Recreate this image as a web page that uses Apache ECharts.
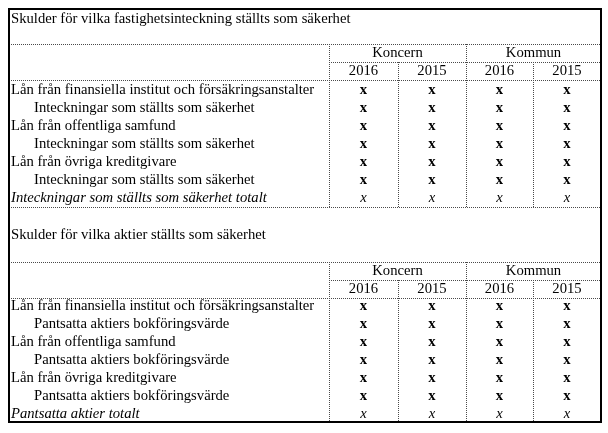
<!DOCTYPE html>
<html><head><meta charset="utf-8">
<script src="https://cdn.jsdelivr.net/npm/echarts@6/dist/echarts.min.js"></script>
<style>html,body{margin:0;padding:0;background:#fff}#c{width:608px;height:433px}</style>
</head><body><div id="c"></div>
<script>
// ---- data ----
const sectionTitles = ['Skulder för vilka fastighetsinteckning ställts som säkerhet', 'Skulder för vilka aktier ställts som säkerhet'];
const groups = ['Koncern', 'Kommun'];
const years = ['2016', '2015'];
const rows1 = [
  'Lån från finansiella institut och försäkringsanstalter',
  'Inteckningar som ställts som säkerhet',
  'Lån från offentliga samfund',
  'Inteckningar som ställts som säkerhet',
  'Lån från övriga kreditgivare',
  'Inteckningar som ställts som säkerhet',
  'Inteckningar som ställts som säkerhet totalt'
];
const rows2 = [
  'Lån från finansiella institut och försäkringsanstalter',
  'Pantsatta aktiers bokföringsvärde',
  'Lån från offentliga samfund',
  'Pantsatta aktiers bokföringsvärde',
  'Lån från övriga kreditgivare',
  'Pantsatta aktiers bokföringsvärde',
  'Pantsatta aktier totalt'
];
const rowKinds = ['main', 'sub', 'main', 'sub', 'main', 'sub', 'total'];
const values1 = [
  ['x', 'x', 'x', 'x'], ['x', 'x', 'x', 'x'], ['x', 'x', 'x', 'x'], ['x', 'x', 'x', 'x'],
  ['x', 'x', 'x', 'x'], ['x', 'x', 'x', 'x'], ['x', 'x', 'x', 'x']
];
const values2 = [
  ['x', 'x', 'x', 'x'], ['x', 'x', 'x', 'x'], ['x', 'x', 'x', 'x'], ['x', 'x', 'x', 'x'],
  ['x', 'x', 'x', 'x'], ['x', 'x', 'x', 'x'], ['x', 'x', 'x', 'x']
];

// ---- layout (not data) ----
const W = 608, H = 433;
const FS = 14.67;
const FAM = '"Liberation Serif", "Times New Roman", serif';
const layout = {
  border: { x0: 9, y0: 9, x1: 601, y1: 422 },
  labelX: 11, indentX: 34,
  colEdges: [329, 398, 466, 533, 601],
  rowH: 18,
  sections: [
    { titleY: 18, groupTop: 44, yearTop: 62, bodyTop: 80, firstRowY: 90, end: 207, endLine: true },
    { titleY: 234, groupTop: 262, yearTop: 280, bodyTop: 298, firstRowY: 306, end: 422, endLine: false }
  ]
};
const sections = [
  { title: sectionTitles[0], rows: rows1, values: values1 },
  { title: sectionTitles[1], rows: rows2, values: values2 }
];

function renderItem(params, api) {
  const P = (x, y) => api.coord([x, y]);
  const children = [];
  const dotted = { stroke: '#4a4a4a', lineWidth: 1, lineDash: [1, 1], fill: null };
  const px = v => Math.round(v) + 0.5;
  function hline(x0, x1, y) {
    const a = P(x0, y), b = P(x1, y);
    children.push({ type: 'line', shape: { x1: a[0], y1: px(a[1]), x2: b[0], y2: px(b[1]) }, style: dotted });
  }
  function vline(x, y0, y1) {
    const a = P(x, y0), b = P(x, y1);
    children.push({ type: 'line', shape: { x1: px(a[0]), y1: a[1], x2: px(b[0]), y2: b[1] }, style: dotted });
  }
  function text(str, x, y, font, align) {
    const p = P(x, y);
    children.push({ type: 'text', x: p[0], y: p[1], style: { text: str, font: font, fill: '#000', align: align || 'left', verticalAlign: 'middle' } });
  }
  const B = layout.border, E = layout.colEdges;
  const normal = FS + 'px ' + FAM, italic = 'italic ' + FS + 'px ' + FAM, bold = 'bold ' + FS + 'px ' + FAM;
  sections.forEach((sec, si) => {
    const L = layout.sections[si];
    text(sec.title, layout.labelX, L.titleY + 1, normal);
    hline(B.x0, B.x1, L.groupTop);
    hline(E[0], B.x1, L.yearTop);
    hline(B.x0, B.x1, L.bodyTop);
    if (L.endLine) hline(B.x0, B.x1, L.end);
    vline(E[0], L.groupTop, L.end);
    vline(E[2], L.groupTop, L.end);
    vline(E[1], L.yearTop, L.end);
    vline(E[3], L.yearTop, L.end);
    groups.forEach((g, gi) => text(g, (E[gi * 2] + E[gi * 2 + 2]) / 2, (L.groupTop + L.yearTop) / 2, normal, 'center'));
    for (let c = 0; c < 4; c++) {
      text(years[c % 2], (E[c] + E[c + 1]) / 2, (L.yearTop + L.bodyTop) / 2, normal, 'center');
    }
    sec.rows.forEach((r, ri) => {
      const y = L.firstRowY + ri * layout.rowH;
      const kind = rowKinds[ri];
      text(r, kind === 'sub' ? layout.indentX : layout.labelX, y, kind === 'total' ? italic : normal);
      sec.values[ri].forEach((v, c) => {
        text(v, (E[c] + E[c + 1]) / 2, y + 0.5, kind === 'total' ? italic : bold, 'center');
      });
    });
  });
  const a = P(B.x0, B.y0), b = P(B.x1, B.y1);
  children.push({ type: 'rect', shape: { x: a[0], y: a[1], width: b[0] - a[0], height: b[1] - a[1] }, style: { stroke: '#000', lineWidth: 2, fill: null } });
  return { type: 'group', children: children };
}

const chart = echarts.init(document.getElementById('c'), null, { renderer: 'canvas' });
chart.setOption({
  animation: false,
  backgroundColor: '#fff',
  grid: { left: 0, right: 0, top: 0, bottom: 0 },
  xAxis: { type: 'value', min: 0, max: W, show: false },
  yAxis: { type: 'value', min: 0, max: H, inverse: true, show: false },
  series: [{ type: 'custom', silent: true, clip: false, renderItem: renderItem, data: [[0, 0]] }]
});
</script></body></html>
